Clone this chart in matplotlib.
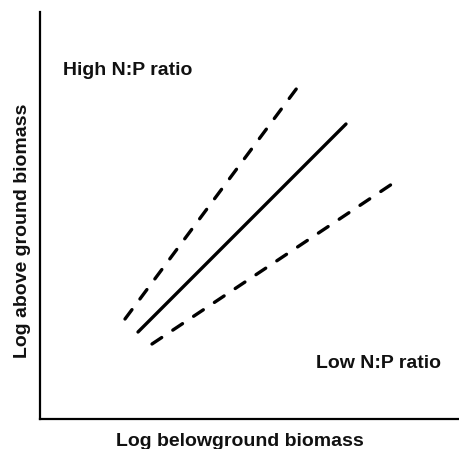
import matplotlib
matplotlib.use("Agg")
import matplotlib.pyplot as plt

# Conceptual lines (arbitrary log units): x = log belowground, y = log aboveground
high_x = [85, 257]
high_y = [100, 331]
mid_x = [98, 306]
mid_y = [87, 295]
low_x = [112, 352]
low_y = [75, 235]

labels = ["High N:P ratio", "Low N:P ratio"]
xlabel = "Log belowground biomass"
ylabel = "Log above ground biomass"

W, H = 460, 449
fig = plt.figure(figsize=(W / 100, H / 100), dpi=100)
ax = fig.add_axes([40 / W, 1 - 419 / H, 1 - 40 / W, (419 - 12) / H])
ax.set_xlim(0, 420)
ax.set_ylim(0, 407)

ax.plot(high_x, high_y, color="black", lw=2.4, dashes=(3.5, 4.0), dash_capstyle="round")
ax.plot(mid_x, mid_y, color="black", lw=2.4, solid_capstyle="round")
ax.plot(low_x, low_y, color="black", lw=2.4, dashes=(3.5, 4.0), dash_capstyle="round")

for s in ["top", "right"]:
    ax.spines[s].set_visible(False)
for s in ["left", "bottom"]:
    ax.spines[s].set_linewidth(1.6)
    ax.spines[s].set_color("black")
ax.set_xticks([])
ax.set_yticks([])

font = dict(family="Liberation Sans", fontweight="bold", fontsize=14, color="#111111")
fig.text(63 / W, 1 - 75 / H, labels[0], ha="left", va="baseline", **font)
fig.text(316 / W, 1 - 368 / H, labels[1], ha="left", va="baseline", **font)
fig.text(240 / W, 1 - 446 / H, xlabel, ha="center", va="baseline", **font)
fig.text(23 / W, 1 - 231 / H, ylabel, ha="center", va="center", rotation=90, **font)

fig.savefig("out.png", dpi=100)
